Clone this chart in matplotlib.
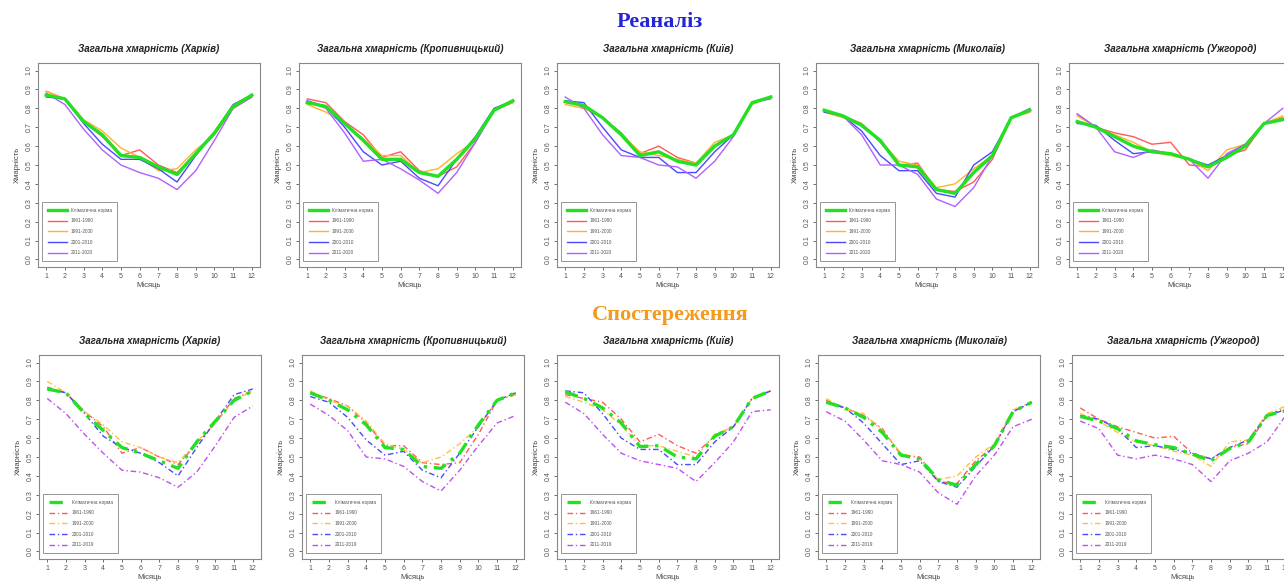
import numpy as np
import matplotlib.pyplot as plt

months = np.arange(1, 13)
cities = ["Харків", "Кропивницький", "Київ", "Миколаїв", "Ужгород"]

# reanalysis, rows: norm, 1961-1990, 1991-2000, 2001-2010, 2011-2020
rea_kharkiv = [
    [0.87, 0.85, 0.73, 0.66, 0.55, 0.54, 0.49, 0.45, 0.56, 0.67, 0.81, 0.87],
    [0.89, 0.85, 0.73, 0.65, 0.55, 0.58, 0.50, 0.46, 0.56, 0.66, 0.80, 0.86],
    [0.89, 0.85, 0.74, 0.68, 0.59, 0.54, 0.47, 0.48, 0.58, 0.66, 0.80, 0.86],
    [0.86, 0.85, 0.72, 0.61, 0.53, 0.53, 0.48, 0.41, 0.55, 0.67, 0.82, 0.87],
    [0.88, 0.82, 0.69, 0.58, 0.50, 0.46, 0.43, 0.37, 0.47, 0.63, 0.80, 0.86],
]
rea_kropyv = [
    [0.83, 0.81, 0.72, 0.63, 0.53, 0.53, 0.46, 0.44, 0.53, 0.64, 0.79, 0.84],
    [0.85, 0.83, 0.73, 0.66, 0.54, 0.57, 0.47, 0.44, 0.49, 0.62, 0.79, 0.83],
    [0.82, 0.78, 0.72, 0.64, 0.55, 0.55, 0.46, 0.48, 0.56, 0.63, 0.79, 0.83],
    [0.84, 0.81, 0.70, 0.57, 0.50, 0.52, 0.43, 0.39, 0.53, 0.65, 0.80, 0.84],
    [0.84, 0.80, 0.67, 0.52, 0.53, 0.48, 0.42, 0.35, 0.46, 0.62, 0.79, 0.84],
]
rea_kyiv = [
    [0.835, 0.815, 0.75, 0.66, 0.55, 0.57, 0.52, 0.50, 0.60, 0.66, 0.83, 0.86],
    [0.84, 0.81, 0.75, 0.67, 0.56, 0.60, 0.54, 0.51, 0.60, 0.66, 0.83, 0.86],
    [0.82, 0.80, 0.75, 0.66, 0.57, 0.55, 0.53, 0.51, 0.62, 0.66, 0.82, 0.86],
    [0.84, 0.83, 0.70, 0.58, 0.54, 0.54, 0.46, 0.46, 0.57, 0.66, 0.83, 0.86],
    [0.86, 0.80, 0.66, 0.55, 0.54, 0.50, 0.49, 0.43, 0.52, 0.65, 0.83, 0.85],
]
rea_mykol = [
    [0.79, 0.76, 0.71, 0.63, 0.50, 0.49, 0.37, 0.35, 0.46, 0.55, 0.75, 0.79],
    [0.79, 0.76, 0.72, 0.62, 0.50, 0.51, 0.37, 0.36, 0.41, 0.53, 0.75, 0.78],
    [0.78, 0.75, 0.72, 0.63, 0.52, 0.50, 0.38, 0.40, 0.48, 0.55, 0.75, 0.78],
    [0.78, 0.76, 0.68, 0.55, 0.47, 0.47, 0.35, 0.33, 0.50, 0.57, 0.75, 0.79],
    [0.79, 0.76, 0.66, 0.50, 0.50, 0.45, 0.32, 0.28, 0.38, 0.55, 0.75, 0.80],
]
rea_uzh = [
    [0.73, 0.70, 0.65, 0.60, 0.57, 0.56, 0.53, 0.49, 0.54, 0.60, 0.72, 0.74],
    [0.77, 0.70, 0.67, 0.65, 0.61, 0.62, 0.50, 0.49, 0.55, 0.58, 0.72, 0.75],
    [0.76, 0.70, 0.66, 0.62, 0.57, 0.55, 0.53, 0.47, 0.58, 0.61, 0.72, 0.76],
    [0.72, 0.71, 0.63, 0.56, 0.57, 0.56, 0.53, 0.50, 0.55, 0.61, 0.72, 0.74],
    [0.77, 0.70, 0.57, 0.54, 0.58, 0.56, 0.53, 0.43, 0.56, 0.61, 0.72, 0.80],
]

# observations, rows: norm, 1961-1990, 1991-2000, 2001-2010, 2011-2019
obs_kharkiv = [
    [0.86, 0.84, 0.73, 0.64, 0.55, 0.52, 0.48, 0.44, 0.58, 0.69, 0.80, 0.85],
    [0.87, 0.84, 0.74, 0.66, 0.52, 0.55, 0.50, 0.46, 0.57, 0.68, 0.81, 0.85],
    [0.90, 0.84, 0.74, 0.67, 0.58, 0.55, 0.50, 0.47, 0.58, 0.68, 0.80, 0.85],
    [0.86, 0.84, 0.73, 0.61, 0.55, 0.52, 0.47, 0.40, 0.55, 0.69, 0.83, 0.86],
    [0.81, 0.73, 0.62, 0.52, 0.43, 0.42, 0.39, 0.34, 0.42, 0.56, 0.71, 0.77],
]
obs_kropyv = [
    [0.84, 0.80, 0.75, 0.67, 0.55, 0.54, 0.45, 0.44, 0.52, 0.67, 0.80, 0.84],
    [0.84, 0.81, 0.77, 0.68, 0.56, 0.56, 0.47, 0.46, 0.47, 0.62, 0.80, 0.83],
    [0.85, 0.80, 0.77, 0.69, 0.57, 0.54, 0.47, 0.50, 0.57, 0.66, 0.80, 0.83],
    [0.82, 0.79, 0.71, 0.59, 0.51, 0.53, 0.43, 0.39, 0.52, 0.66, 0.80, 0.84],
    [0.78, 0.72, 0.64, 0.50, 0.49, 0.45, 0.37, 0.32, 0.43, 0.56, 0.68, 0.72],
]
obs_kyiv = [
    [0.845, 0.81, 0.76, 0.68, 0.555, 0.56, 0.50, 0.49, 0.61, 0.66, 0.81, 0.85],
    [0.83, 0.81, 0.79, 0.70, 0.58, 0.62, 0.56, 0.52, 0.61, 0.66, 0.81, 0.85],
    [0.82, 0.79, 0.75, 0.67, 0.56, 0.56, 0.53, 0.50, 0.62, 0.66, 0.81, 0.85],
    [0.85, 0.84, 0.73, 0.60, 0.54, 0.54, 0.46, 0.46, 0.58, 0.66, 0.81, 0.85],
    [0.79, 0.73, 0.62, 0.52, 0.48, 0.46, 0.44, 0.37, 0.47, 0.58, 0.74, 0.75],
]
obs_mykol = [
    [0.79, 0.76, 0.71, 0.63, 0.51, 0.49, 0.38, 0.35, 0.46, 0.56, 0.74, 0.79],
    [0.80, 0.76, 0.72, 0.65, 0.51, 0.50, 0.37, 0.36, 0.48, 0.56, 0.74, 0.79],
    [0.81, 0.75, 0.73, 0.64, 0.52, 0.49, 0.38, 0.40, 0.50, 0.57, 0.75, 0.79],
    [0.79, 0.76, 0.68, 0.57, 0.46, 0.48, 0.37, 0.34, 0.45, 0.56, 0.74, 0.79],
    [0.74, 0.69, 0.59, 0.48, 0.46, 0.42, 0.31, 0.25, 0.40, 0.51, 0.66, 0.70],
]
obs_uzh = [
    [0.715, 0.69, 0.65, 0.585, 0.565, 0.55, 0.515, 0.48, 0.545, 0.58, 0.72, 0.745],
    [0.76, 0.70, 0.66, 0.63, 0.60, 0.61, 0.52, 0.49, 0.55, 0.57, 0.72, 0.76],
    [0.73, 0.69, 0.63, 0.58, 0.56, 0.53, 0.51, 0.45, 0.58, 0.59, 0.73, 0.77],
    [0.72, 0.70, 0.65, 0.55, 0.56, 0.54, 0.52, 0.49, 0.55, 0.59, 0.72, 0.75],
    [0.69, 0.65, 0.51, 0.49, 0.51, 0.49, 0.46, 0.37, 0.48, 0.52, 0.58, 0.72],
]

rea = [rea_kharkiv, rea_kropyv, rea_kyiv, rea_mykol, rea_uzh]
obs = [obs_kharkiv, obs_kropyv, obs_kyiv, obs_mykol, obs_uzh]
labels_rea = ["Кліматична норма", "1961-1990", "1991-2000", "2001-2010", "2011-2020"]
labels_obs = ["Кліматична норма", "1961-1990", "1991-2000", "2001-2010", "2011-2019"]
colors = ["#22e022", "#ff5a5a", "#ffb22e", "#4a4aff", "#b060ff"]
colors_obs = ["#22e022", "#ff5a5a", "#ffc040", "#4a4aff", "#c050f0"]

plt.rcParams['font.family'] = ['Liberation Sans', 'DejaVu Sans']
fig = plt.figure(figsize=(12.84, 5.84), dpi=100)
W, H = 1284, 584

lefts_top = [38, 299, 557, 816, 1069]
lefts_bot = [39, 302, 557, 818, 1072]


def panel(left, top, bottom, city, data, labels, cols, ls):
    ax = fig.add_axes([left / W, 1 - bottom / H, 222 / W, (bottom - top) / H])
    for i, (vals, lab) in enumerate(zip(data, labels)):
        lw = 2.4 if i == 0 else 1.0
        ax.plot(months, vals, color=cols[i], lw=lw, ls=ls, label=lab,
                zorder=3 if i == 0 else 2)
    ax.set_xlim(0.56, 12.44)
    ax.set_ylim(-0.04, 1.04)
    ax.set_xticks(months)
    ax.set_yticks(np.round(np.arange(0, 1.01, 0.1), 1))
    ax.set_yticklabels([f"{v:.1f}" for v in np.arange(0, 1.01, 0.1)],
                       rotation=90, va="center")
    ax.tick_params(labelsize=5, colors="#555555", length=2.5, width=0.6, pad=1.5)
    for s in ax.spines.values():
        s.set_color("#888888")
        s.set_linewidth(0.8)
    ax.set_title(f"Загальна хмарність ({city})", fontsize=7, fontweight="bold",
                 fontstyle="italic", color="#222222", pad=8)
    ax.set_xlabel("Місяць", fontsize=5.5, color="#444444", labelpad=1.5)
    ax.set_ylabel("Хмарність", fontsize=5.5, color="#444444", labelpad=3)
    leg = ax.legend(loc="lower left", fontsize=3.4, handlelength=4,
                    borderpad=1.2, labelspacing=1.2, fancybox=False,
                    bbox_to_anchor=(0.02, 0.03), borderaxespad=0)
    leg.get_frame().set_edgecolor("#666666")
    leg.get_frame().set_linewidth(0.6)
    for t in leg.get_texts():
        t.set_color("#555555")
    return ax


for k in range(5):
    panel(lefts_top[k], 63, 267, cities[k], rea[k], labels_rea, colors, "-")
    panel(lefts_bot[k], 355, 559, cities[k], obs[k], labels_obs, colors_obs,
          (0, (4, 2, 1, 2)))

fig.text(660 / W, 1 - 22 / H, "Реаналіз", ha="center", va="center",
         fontsize=16, fontweight="bold", color="#2424d8", family="Liberation Serif")
fig.text(670 / W, 1 - 315 / H, "Спостереження", ha="center", va="center",
         fontsize=16, fontweight="bold", color="#f59a1a", family="Liberation Serif")

fig.savefig("out.png", dpi=100)
